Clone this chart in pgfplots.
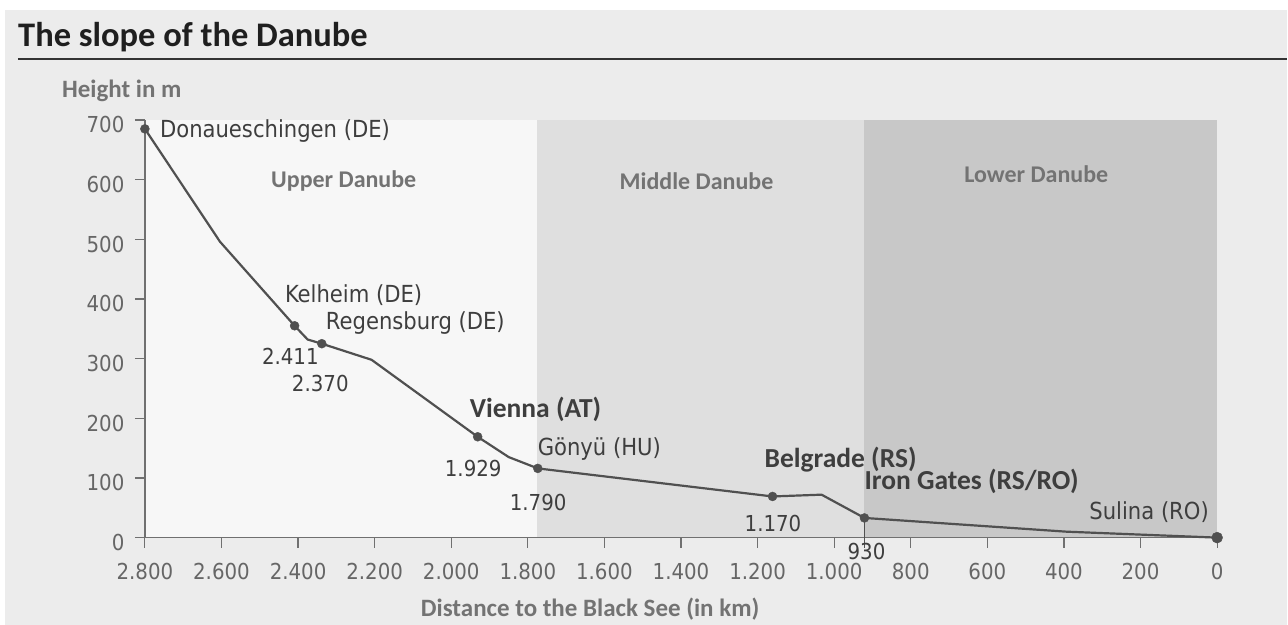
\documentclass[border=0pt]{standalone}
\usepackage{pgfplots}
\pgfplotsset{compat=1.18}
\usepackage{fontspec}
\setmainfont{Carlito}
\newfontfamily\din{DejaVu Sans Condensed}

\definecolor{bg}{HTML}{ECECEC}
\definecolor{upper}{HTML}{F7F7F7}
\definecolor{middle}{HTML}{DFDFDF}
\definecolor{lower}{HTML}{C8C8C8}
\definecolor{riverline}{HTML}{505050}
\definecolor{axiscol}{HTML}{707070}
\definecolor{tickcol}{HTML}{666666}
\definecolor{labelcol}{HTML}{3E3E3E}
\definecolor{regioncol}{HTML}{737373}

% river profile, km to the Black Sea vs height in m
\pgfplotstableread{
km    h
2800  685
2604  496
2409  355
2375  332
2338  325
2208  298
1931  169
1850  135
1774  116
1161  69
1033  72
921   33
394   10
0     0
}\profile

% named places (marked points)
\pgfplotstableread{
km    h
2800  685
2409  355
2338  325
1931  169
1774  116
1161  69
921   33
}\places

\begin{document}
\begin{tikzpicture}
\fill[white] (0,0) rectangle (1288bp,-625bp);
\fill[bg] (5bp,-10bp) rectangle (1288bp,-625bp);

\node[anchor=base west, inner sep=0, text=black!88] at (18bp,-47bp)
  {\fontsize{34.5bp}{34.5bp}\selectfont\bfseries The slope of the Danube};
\draw[line width=1.8bp, black!80] (18bp,-59bp) -- (1288bp,-59bp);
\node[anchor=base west, inner sep=0, text=regioncol] at (62bp,-98bp)
  {\fontsize{25bp}{25bp}\selectfont\bfseries Height in m};

\begin{axis}[
  at={(145bp,-538bp)}, anchor=south west,
  scale only axis, width=1073bp, height=418bp,
  xmin=0, xmax=2800, ymin=0, ymax=700, x dir=reverse,
  clip=false, axis on top=false,
  axis x line*=bottom, axis y line*=left,
  xtick align=outside, ytick align=outside,
  axis line style={axiscol, line width=1.4bp},
  xtick={0,200,...,2800}, ytick={0,100,...,700},
  major tick length=10bp,
  tick style={axiscol, line width=1.2bp},
  /pgf/number format/1000 sep={.},
  /pgf/number format/assume math mode=true,
  ticklabel style={font=\din\fontsize{22bp}{22bp}\selectfont, text=tickcol},
  xticklabel style={yshift=-12bp},
  yticklabel style={yshift=-5bp, xshift=-7bp},
]
\addplot[fill=upper, draw=none]
  coordinates {(2797,1.2) (2797,700) (1776,700) (1776,1.2)} -- cycle;
\addplot[fill=middle, draw=none]
  coordinates {(1776,1.2) (1776,700) (921,700) (921,1.2)} -- cycle;
\addplot[fill=lower, draw=none]
  coordinates {(921,1.2) (921,700) (0,700) (0,1.2)} -- cycle;

\addplot[riverline, line width=1.3bp] coordinates {(921,33) (921,-17)};
\addplot[riverline, line width=2.2bp, no marks] table[x=km, y=h] {\profile};
\addplot[only marks, mark=*, mark size=4.5bp, riverline] table[x=km, y=h] {\places};
\addplot[only marks, mark=*, mark size=5.5bp, riverline] coordinates {(0,0)};
\end{axis}

% stretch names
\begin{scope}[every node/.style={inner sep=0, text=regioncol}]
\node[anchor=base] at (344bp,-188bp) {\fontsize{24bp}{24bp}\selectfont\bfseries Upper Danube};
\node[anchor=base] at (697bp,-190bp) {\fontsize{24bp}{24bp}\selectfont\bfseries Middle Danube};
\node[anchor=base] at (1037bp,-183bp) {\fontsize{24bp}{24bp}\selectfont\bfseries Lower Danube};
\node[anchor=base west] at (421bp,-617bp) {\fontsize{25bp}{25bp}\selectfont\bfseries Distance to the Black See (in km)};
\end{scope}

% places
\begin{scope}[every node/.style={inner sep=0, anchor=base west, text=labelcol}]
\node at (160bp,-138bp) {\din\fontsize{23.5bp}{23.5bp}\selectfont Donaueschingen (DE)};
\node at (285bp,-303bp) {\din\fontsize{23.5bp}{23.5bp}\selectfont Kelheim (DE)};
\node at (326bp,-330bp) {\din\fontsize{23.5bp}{23.5bp}\selectfont Regensburg (DE)};
\node at (538bp,-456bp) {\din\fontsize{23.5bp}{23.5bp}\selectfont Gönyü (HU)};
\node at (1090bp,-520bp) {\din\fontsize{23.5bp}{23.5bp}\selectfont Sulina (RO)};
\node at (262bp,-365bp) {\din\fontsize{22bp}{22bp}\selectfont 2.411};
\node at (292bp,-392bp) {\din\fontsize{22bp}{22bp}\selectfont 2.370};
\node at (445bp,-477bp) {\din\fontsize{22bp}{22bp}\selectfont 1.929};
\node at (510bp,-511bp) {\din\fontsize{22bp}{22bp}\selectfont 1.790};
\node at (745bp,-532bp) {\din\fontsize{22bp}{22bp}\selectfont 1.170};
\node at (848bp,-560bp) {\din\fontsize{22bp}{22bp}\selectfont 930};
\node at (470bp,-418bp) {\fontsize{27.5bp}{27.5bp}\selectfont\bfseries Vienna (AT)};
\node at (765bp,-468bp) {\fontsize{27.5bp}{27.5bp}\selectfont\bfseries Belgrade (RS)};
\node at (865bp,-490bp) {\fontsize{27.5bp}{27.5bp}\selectfont\bfseries Iron Gates (RS/RO)};
\end{scope}
\end{tikzpicture}
\end{document}
